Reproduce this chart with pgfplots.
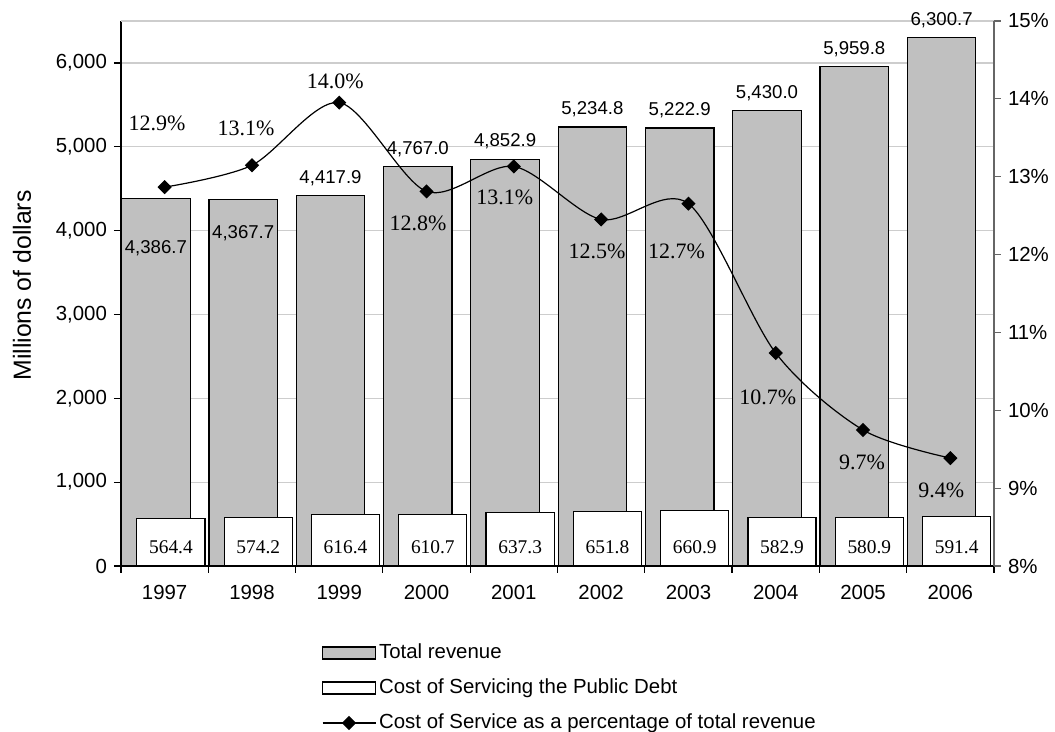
\documentclass[border=0pt]{standalone}
\usepackage{pgfplots}
\pgfplotsset{compat=1.18}
\usepackage{pgfplotstable}
\usepackage{fontspec}
\setmainfont{Liberation Sans}
\newfontfamily\serifont{Liberation Serif}
\definecolor{barGray}{RGB}{192,192,192}
\definecolor{gridgray}{RGB}{205,205,205}
\newcommand\tickfont{\fontsize{10.2}{12}\selectfont}
\newcommand\ylabfont{\fontsize{12.4}{14}\selectfont}
\newcommand\labfont{\fontsize{9.3}{11}\selectfont}
\newcommand\pctfont{\serifont\fontsize{11}{13}\selectfont}
\newcommand\wfont{\serifont\fontsize{9.7}{11}\selectfont}
\pgfplotsset{linelegend/.style={legend image code/.code={\draw[mark repeat=2,mark phase=2,##1] plot coordinates {(0pt,0pt) (13.25pt,0pt) (26.5pt,0pt)};}}}

\pgfplotstableread{
x rev cost pct revdy pctdx pctdy
0 4386.7 564.4 12.866 -25 -3.8 32
1 4367.7 574.2 13.147 -16.5 -3 18.5
2 4417.9 616.4 13.952 8.75 -2 10.5
3 4767.0 610.7 12.811 8.75 -4.3 -16
4 4852.9 637.3 13.132 8.75 -4.5 -15.5
5 5234.8 651.8 12.451 8.75 -2 -16
6 5222.9 660.9 12.654 8.75 -6 -24
7 5430.0 582.9 10.735 8.75 -4 -22
8 5959.8 580.9 9.747 8.75 -0.5 -16
9 6300.7 591.4 9.386 8.75 -4.5 -16
}\data

\begin{document}
\begin{tikzpicture}
\useasboundingbox (-60.5pt,-83pt) rectangle (467pt,283pt);
\begin{axis}[
  scale only axis, width=436.5pt, height=272.5pt,
  xmin=-0.5, xmax=9.5, ymin=0, ymax=6500,
  axis x line*=bottom, axis y line*=left,
  axis line style={black, line width=0.6pt},
  xtick={-0.5,0.5,...,9.5},
  x tick label as interval,
  xticklabels={1997,1998,1999,2000,2001,2002,2003,2004,2005,2006},
  xticklabel style={yshift=-2.5pt},
  ytick={0,1000,...,6000},
  ymajorgrids, grid style={color=gridgray, line width=0.6pt},
  tick align=outside, major tick length=3.5pt,
  tick style={black, line width=0.6pt},
  /pgf/number format/.cd, 1000 sep={,}, assume math mode=true, /pgfplots/.cd,
  ticklabel style={font=\tickfont},
  ylabel={Millions of dollars},
  ylabel style={at={(axis description cs:-0.1134,0.5147)}, anchor=center, font=\ylabfont},
  ybar, bar width=0.785,
  clip=false,
]
\draw[gridgray, line width=0.6pt] (axis cs:-0.5,6500) -- (axis cs:9.5,6500);
\addplot[fill=barGray, draw=black, line width=0.6pt, bar shift=-0.1,
  point meta=y,
  nodes near coords={\pgfmathprintnumber[fixed,fixed zerofill,precision=1,1000 sep={,},assume math mode=true]{\pgfplotspointmeta}},
  visualization depends on={\thisrow{revdy} \as \revdy},
  every node near coord/.append style={anchor=center, yshift=\revdy pt, font=\labfont, inner sep=0pt, black}]
  table[x=x, y=rev] {\data};
\addplot[fill=white, draw=black, line width=0.6pt, bar shift=0.072, bar width=0.78,
  point meta=y,
  nodes near coords={\pgfmathprintnumber[fixed,fixed zerofill,precision=1,assume math mode=true]{\pgfplotspointmeta}},
  visualization depends on={9.5-0.041923*\thisrow{cost} \as \costdy},
  every node near coord/.append style={anchor=center, yshift=\costdy pt, font=\wfont, inner sep=0pt, black}]
  table[x=x, y=cost] {\data};
\end{axis}

\begin{axis}[
  scale only axis, width=436.5pt, height=272.5pt,
  xmin=-0.5, xmax=9.5, ymin=8, ymax=15,
  hide x axis,
  axis y line*=right,
  y axis line style={black!60, line width=0.6pt},
  ytick={8,...,15},
  yticklabel={\pgfmathprintnumber[assume math mode=true]{\tick}\%},
  tick align=outside, major tick length=3.5pt,
  ytick style={black!60, line width=0.6pt},
  ticklabel style={font=\tickfont},
  clip=false,
  legend style={draw=none, fill=none, at={(axis description cs:0.2302,-0.1367)}, anchor=north west,
    inner sep=0pt, outer sep=0pt, row sep=5pt, font=\tickfont,
    nodes={inner sep=1.5pt, text height=7.5pt, text depth=2pt}},
  legend cell align=left,
]
\addlegendimage{legend image code/.code={\draw[fill=barGray, draw=black, line width=0.6pt] (0pt,-3pt) rectangle (26.5pt,3pt);}}
\addlegendentry{Total revenue}
\addlegendimage{legend image code/.code={\draw[fill=white, draw=black, line width=0.6pt] (0pt,-3pt) rectangle (26.5pt,3pt);}}
\addlegendentry{Cost of Servicing the Public Debt}
\addplot[black, line width=0.6pt, smooth, mark=square*, mark size=2.2pt,
  mark options={rotate=45, fill=black},
  linelegend,
  point meta=y,
  nodes near coords={\pgfmathprintnumber[fixed,fixed zerofill,precision=1,assume math mode=true]{\pgfplotspointmeta}\%},
  visualization depends on={\thisrow{pctdx} \as \pdx},
  visualization depends on={\thisrow{pctdy} \as \pdy},
  every node near coord/.append style={anchor=center, xshift=\pdx pt, yshift=\pdy pt, font=\pctfont, inner sep=0pt, black}]
  table[x=x, y=pct] {\data};
\addlegendentry{Cost of Service as a percentage of total revenue}
\end{axis}
\end{tikzpicture}
\end{document}
